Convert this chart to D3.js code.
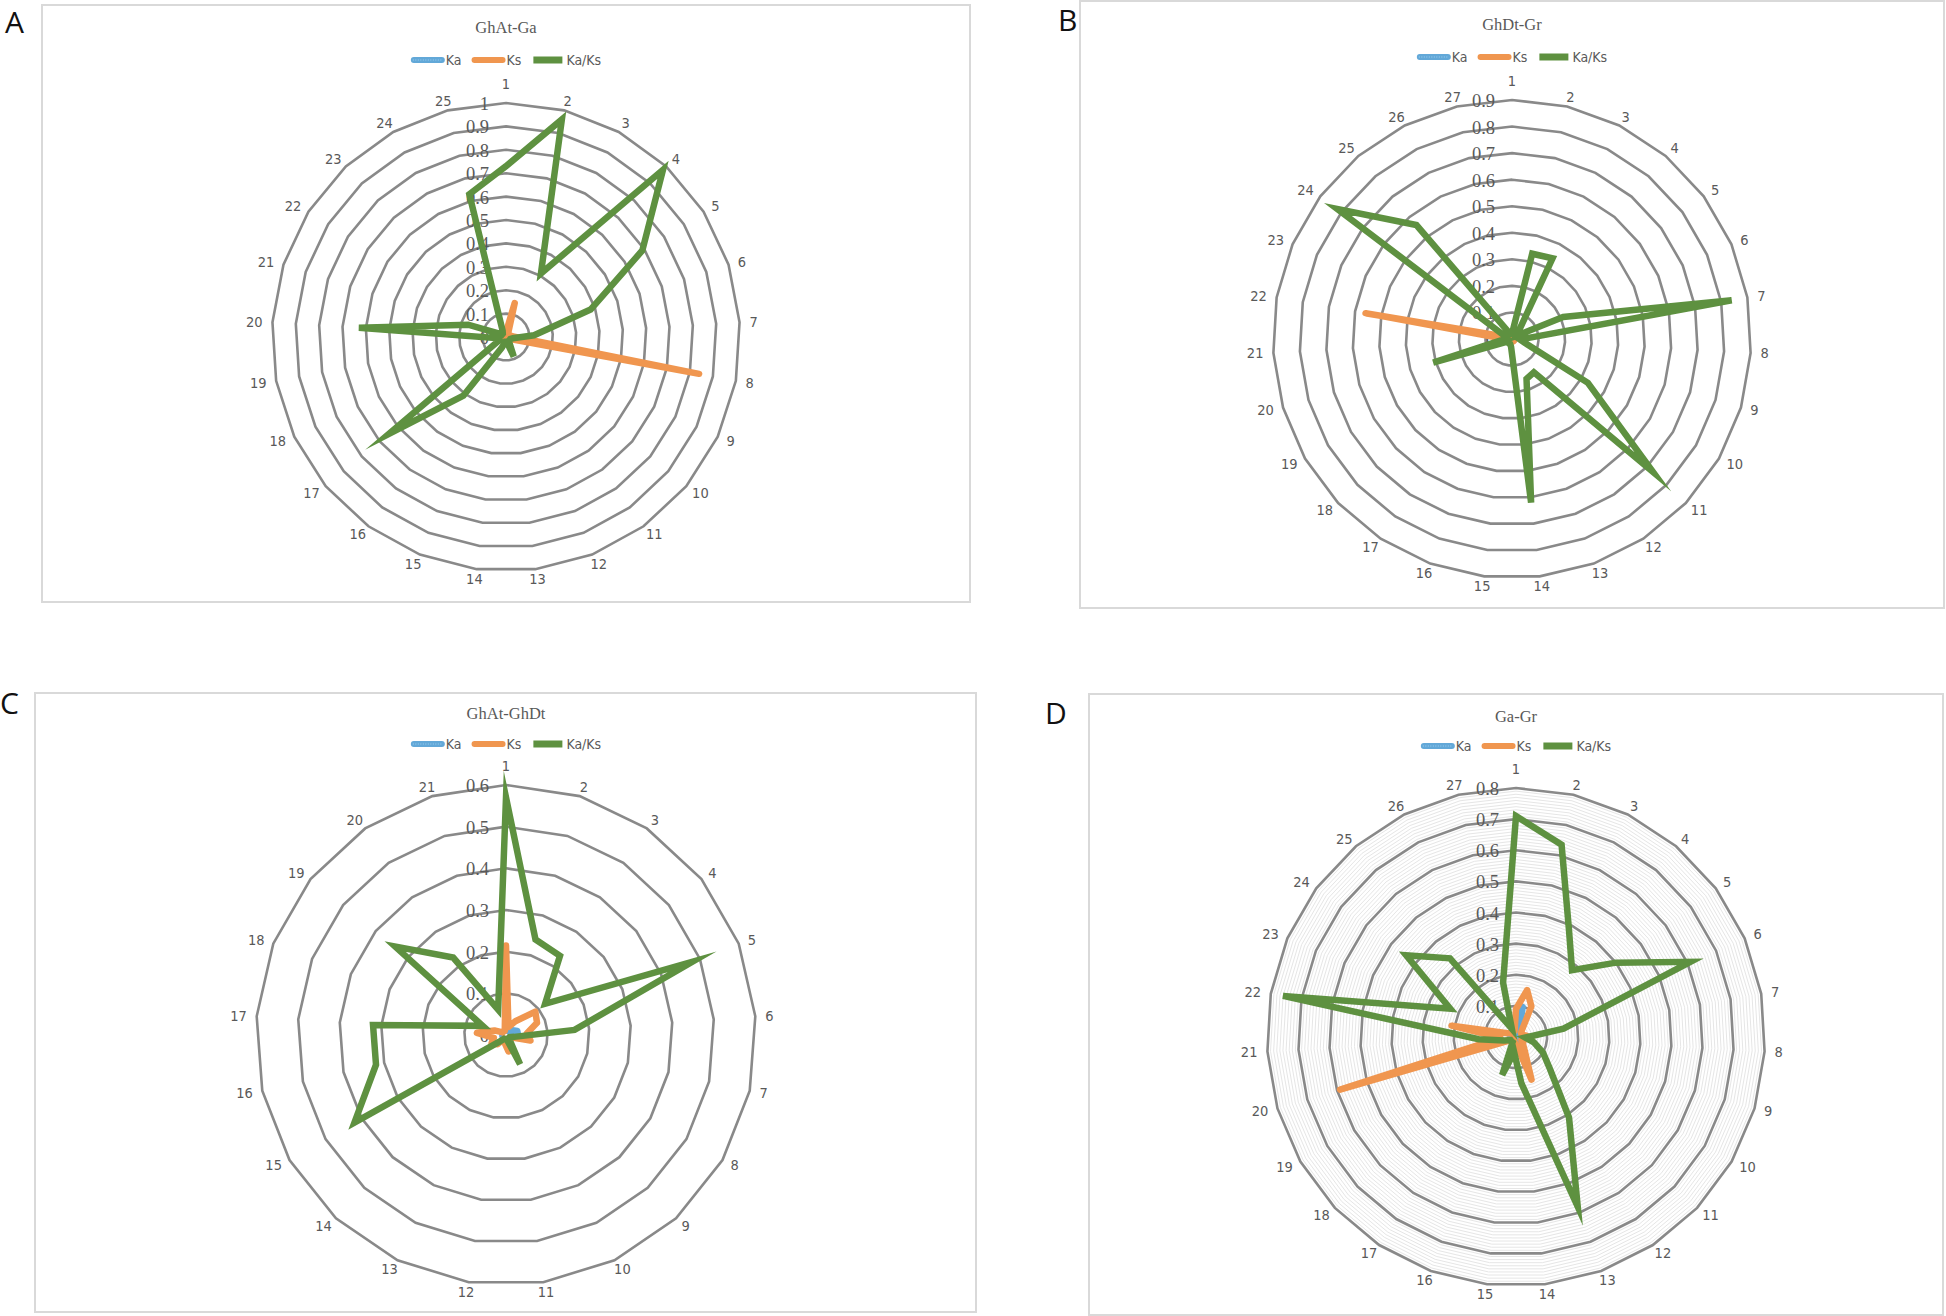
<!DOCTYPE html>
<html><head><meta charset="utf-8">
<script src="https://cdn.jsdelivr.net/npm/d3@7/dist/d3.min.js"></script>
<style>body{margin:0;background:#fff}svg{display:block}</style>
</head><body>
<svg id="chart" width="1946" height="1316"></svg>
<script>
// ---------- DATA ----------
const seriesNames = ["Ka", "Ks", "Ka/Ks"];

// Panel A: GhAt-Ga
const catsA = ["1","2","3","4","5","6","7","8","9","10","11","12","13","14","15","16","17","18","19","20","21","22","23","24","25"];
const ticksA = ["0","0.1","0.2","0.3","0.4","0.5","0.6","0.7","0.8","0.9","1"];
const kaA   = [0.01,0.02,0.01,0.01,0.01,0.01,0.01,0.02,0.01,0.01,0.01,0.01,0.01,0.01,0.01,0.01,0.01,0.01,0.01,0.01,0.01,0.01,0.01,0.01,0.01];
const ksA   = [0.02,0.15,0.02,0.01,0.01,0.02,0.03,0.84,0.02,0.01,0.01,0.01,0.01,0.01,0.01,0.01,0.01,0.01,0.01,0.01,0.01,0.01,0.01,0.01,0.01];
const kaksA = [0.73,0.96,0.31,0.98,0.69,0.38,0.12,0.03,0.02,0.02,0.02,0.09,0.02,0.02,0.05,0.31,0.65,0.03,0.03,0.63,0.17,0.02,0.02,0.03,0.63];

// Panel B: GhDt-Gr
const catsB = ["1","2","3","4","5","6","7","8","9","10","11","12","13","14","15","16","17","18","19","20","21","22","23","24","25","26","27"];
const ticksB = ["0","0.1","0.2","0.3","0.4","0.5","0.6","0.7","0.8","0.9"];
const kaB   = [0.01,0.01,0.01,0.01,0.01,0.01,0.01,0.01,0.01,0.01,0.01,0.01,0.01,0.01,0.01,0.01,0.01,0.01,0.01,0.01,0.01,0.01,0.01,0.01,0.01,0.01,0.01];
const ksB   = [0.01,0.01,0.01,0.01,0.01,0.01,0.01,0.01,0.01,0.01,0.01,0.01,0.01,0.01,0.01,0.01,0.01,0.01,0.01,0.02,0.02,0.56,0.02,0.01,0.01,0.01,0.01];
const kaksB = [0.02,0.33,0.34,0.04,0.02,0.21,0.84,0.03,0.05,0.33,0.73,0.15,0.16,0.62,0.03,0.02,0.02,0.02,0.02,0.31,0.03,0.02,0.03,0.82,0.56,0.03,0.02];

// Panel C: GhAt-GhDt
const catsC = ["1","2","3","4","5","6","7","8","9","10","11","12","13","14","15","16","17","18","19","20","21"];
const ticksC = ["0","0.1","0.2","0.3","0.4","0.5","0.6"];
const kaC   = [0.01,0.01,0.01,0.02,0.03,0.03,0.01,0.01,0.01,0.01,0.01,0.01,0.01,0.01,0.01,0.01,0.01,0.01,0.01,0.01,0.01];
const ksC   = [0.215,0.02,0.04,0.09,0.08,0.05,0.06,0.01,0.01,0.01,0.04,0.02,0.01,0.03,0.04,0.03,0.07,0.03,0.01,0.01,0.01];
const kaksC = [0.57,0.24,0.23,0.12,0.48,0.165,0.02,0.01,0.01,0.078,0.01,0.01,0.01,0.02,0.42,0.32,0.32,0.06,0.34,0.225,0.064];

// Panel D: Ga-Gr
const catsD = ["1","2","3","4","5","6","7","8","9","10","11","12","13","14","15","16","17","18","19","20","21","22","23","24","25","26","27"];
const ticksD = ["0","0.1","0.2","0.3","0.4","0.5","0.6","0.7","0.8"];
const kaD   = [0.05,0.10,0.03,0.01,0.01,0.01,0.01,0.02,0.01,0.01,0.01,0.01,0.02,0.01,0.01,0.01,0.01,0.01,0.01,0.02,0.01,0.02,0.01,0.01,0.01,0.01,0.01];
const ksD   = [0.09,0.155,0.11,0.03,0.02,0.02,0.03,0.05,0.03,0.02,0.03,0.05,0.146,0.03,0.02,0.02,0.01,0.01,0.02,0.59,0.05,0.21,0.03,0.02,0.02,0.02,0.02];
const kaksD = [0.71,0.635,0.38,0.28,0.40,0.61,0.155,0.03,0.06,0.10,0.15,0.31,0.58,0.15,0.05,0.13,0.02,0.02,0.02,0.04,0.12,0.76,0.23,0.44,0.33,0.03,0.18];

// ---------- LAYOUT / STYLE ----------
const colors = {"Ka":"#62a8d8", "Ks":"#f0964f", "Ka/Ks":"#5e9140"};
const panels = [
  {letter:"A", lx:5,    ly:33,   title:"GhAt-Ga",   box:[42,5,970,602],     cx:506,  cy:337,  R:234, titleY:27,  legendY:60,
   cats:catsA, ticks:ticksA, series:[kaA,ksA,kaksA], minor:false},
  {letter:"B", lx:1058, ly:31,   title:"GhDt-Gr",   box:[1080,1,1944,608],  cx:1512, cy:339,  R:239, titleY:24,  legendY:57,
   cats:catsB, ticks:ticksB, series:[kaB,ksB,kaksB], minor:false},
  {letter:"C", lx:0,    ly:714,  title:"GhAt-GhDt", box:[35,693,976,1312],  cx:506,  cy:1035, R:250, titleY:713, legendY:744,
   cats:catsC, ticks:ticksC, series:[kaC,ksC,kaksC], minor:false},
  {letter:"D", lx:1045, ly:724,  title:"Ga-Gr",     box:[1089,694,1943,1315], cx:1516, cy:1037, R:249, titleY:716, legendY:746,
   cats:catsD, ticks:ticksD, series:[kaD,ksD,kaksD], minor:true}
];

const svg = d3.select("#chart");
svg.append("rect").attr("width",1946).attr("height",1316).attr("fill","#fff");

const sansNarrow = "'Liberation Sans Narrow','DejaVu Sans Condensed','Open Sans',sans-serif";
const serif = "'Liberation Serif','DejaVu Serif',serif";

panels.forEach(p => {
  const g = svg.append("g");
  // panel letter
  g.append("text").attr("x", p.lx).attr("y", p.ly).text(p.letter)
    .attr("font-family","'Open Sans','DejaVu Sans',sans-serif").attr("font-size",30).attr("fill","#111");
  // frame
  const [x0,y0,x1,y1] = p.box;
  g.append("rect").attr("x",x0).attr("y",y0).attr("width",x1-x0).attr("height",y1-y0)
    .attr("fill","#fff").attr("stroke","#d9d9d9").attr("stroke-width",2);
  // title
  g.append("text").attr("x",p.cx).attr("y",p.titleY).attr("text-anchor","middle")
    .attr("dominant-baseline","central").attr("font-family",serif).attr("font-size",16.5)
    .attr("fill","#595959").text(p.title);

  // legend
  const lg = g.append("g").attr("transform",`translate(0,${p.legendY})`);
  const items = [];
  let x = 0;
  seriesNames.forEach((name,k) => {
    const it = lg.append("g");
    if (k < 2) {
      it.append("line").attr("x1",3).attr("x2",31).attr("y1",0).attr("y2",0)
        .attr("stroke",colors[name]).attr("stroke-width",6).attr("stroke-linecap","round");
      if (k === 0) it.append("line").attr("x1",2).attr("x2",32).attr("y1",0).attr("y2",0)
        .attr("stroke","#9fd0f0").attr("stroke-width",1).attr("stroke-dasharray","1,1.5");
    } else {
      it.append("rect").attr("x",2).attr("y",-3.5).attr("width",29).attr("height",7).attr("fill",colors[name]);
    }
    const t = it.append("text").attr("x",35).attr("y",0).attr("dominant-baseline","central")
      .attr("font-family",sansNarrow).attr("font-size",14).attr("fill","#595959").text(name);
    const w = 35 + t.node().getComputedTextLength();
    items.push({it, x, w});
    x += w + 10;
  });
  const total = x - 10;
  items.forEach(d => d.it.attr("transform",`translate(${p.cx - total/2 + d.x},0)`));

  // radar
  const n = p.cats.length;
  const ang = d3.scaleLinear().domain([0, n]).range([0, 2*Math.PI]);
  const maxV = +p.ticks[p.ticks.length-1];
  const rad = d3.scaleLinear().domain([0, maxV]).range([0, p.R]);
  const cg = g.append("g").attr("transform",`translate(${p.cx},${p.cy})`);
  const ringPath = v => d3.lineRadial().angle((d,i)=>ang(i)).radius(()=>rad(v)).curve(d3.curveLinearClosed)(p.cats);

  if (p.minor) {
    const majorSet = new Set(p.ticks.map(t => Math.round(+t*100)));
    rad.ticks(80).filter(v => !majorSet.has(Math.round(v*100))).forEach(v => {
      cg.append("path").attr("d", ringPath(v)).attr("fill","none").attr("stroke","#e6e6e6").attr("stroke-width",1);
    });
  }
  p.ticks.forEach(t => {
    if (+t === 0) return;
    cg.append("path").attr("d", ringPath(+t)).attr("fill","none").attr("stroke","#898989").attr("stroke-width",2.6)
      .attr("stroke-linejoin","miter");
  });
  // tick labels
  p.ticks.forEach(t => {
    cg.append("text").attr("x",-17).attr("y",-rad(+t)+1).attr("text-anchor","end")
      .attr("dominant-baseline","central").attr("font-family",serif).attr("font-size",18.5)
      .attr("fill","#595959").text(t);
  });
  // category labels
  p.cats.forEach((c,i) => {
    const a = ang(i), sx = Math.sin(a), sy = -Math.cos(a);
    const t = cg.append("text").attr("text-anchor","middle").attr("dominant-baseline","central")
      .attr("font-family",sansNarrow).attr("font-size",14.5).attr("fill","#595959").text(c);
    const w = t.node().getComputedTextLength();
    const r0 = p.R + 10;
    const lx = r0*sx + sx*(w/2);
    const ly = i === 0 ? -(p.R + 19) : r0*sy;
    t.attr("x", lx).attr("y", ly);
  });
  // series
  const line = d3.lineRadial().angle((d,i)=>ang(i)).radius(d=>rad(d)).curve(d3.curveLinearClosed);
  p.series.forEach((vals,k) => {
    const name = seriesNames[k];
    cg.append("path").attr("d", line(vals)).attr("fill","none").attr("stroke",colors[name])
      .attr("stroke-width", k===0 ? 5.5 : 6.5)
      .attr("stroke-linejoin", k===2 ? "miter" : "round")
      .attr("stroke-linecap","round").attr("stroke-miterlimit", 10);
  });
});
</script>
</body></html>
